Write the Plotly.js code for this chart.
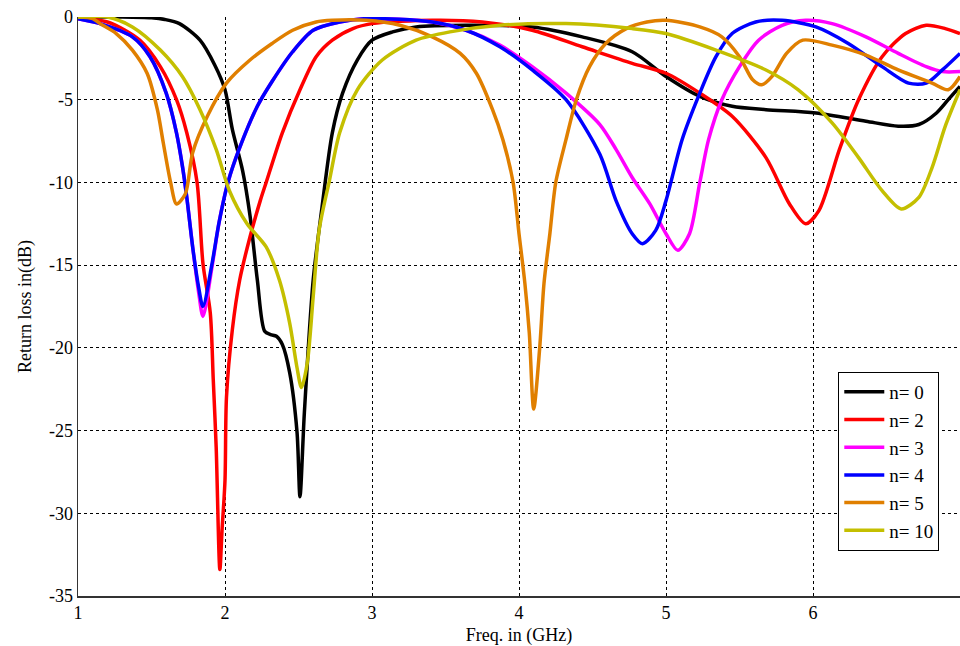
<!DOCTYPE html>
<html>
<head>
<meta charset="utf-8">
<script src="https://cdn.plot.ly/plotly-3.0.1.min.js"></script>
<style>html,body{margin:0;padding:0;background:#fff;}#chart{width:960px;height:646px;}</style>
</head>
<body>
<div id="chart"></div>
<script>
// n = 0 (black)
const x0 = [1, 1.3, 1.5, 1.59, 1.69, 1.83, 1.93, 2.0, 2.05, 2.12, 2.17, 2.22, 2.27, 2.31, 2.35, 2.39, 2.44, 2.49, 2.51, 2.54, 2.60, 2.66, 2.73, 2.80, 2.90, 3.0, 3.14, 3.3, 3.64, 4.09, 4.43, 4.77, 5.0, 5.23, 5.45, 5.68, 6.02, 6.36, 6.58, 6.72, 6.84, 6.92, 7.0];
const y0 = [0, 0, -0.05, -0.15, -0.4, -1.4, -2.9, -4.4, -6.8, -9.3, -12.0, -15.9, -19.0, -19.2, -19.3, -19.8, -21.5, -25.1, -29.0, -23.9, -15.9, -11.5, -7.0, -4.6, -2.6, -1.4, -0.9, -0.6, -0.5, -0.6, -1.2, -2.1, -3.6, -4.8, -5.4, -5.6, -5.8, -6.3, -6.6, -6.5, -5.8, -5.0, -4.2];
// n = 2 (red)
const x2 = [1, 1.2, 1.42, 1.56, 1.67, 1.74, 1.81, 1.85, 1.90, 1.92, 1.94, 1.965, 1.98, 2.0, 2.01, 2.05, 2.10, 2.17, 2.24, 2.28, 2.39, 2.51, 2.62, 2.73, 2.87, 3.0, 3.41, 3.75, 4.09, 4.43, 4.77, 5.0, 5.23, 5.45, 5.68, 5.84, 5.95, 6.04, 6.18, 6.31, 6.47, 6.63, 6.77, 6.90, 7.0];
const y2 = [-0.1, -0.3, -1.4, -3.0, -5.0, -7.0, -10.0, -14.9, -17.9, -21.9, -26.0, -33.4, -31.0, -28.0, -23.0, -18.9, -15.9, -13.3, -11.1, -10.0, -7.0, -4.4, -2.4, -1.4, -0.7, -0.4, -0.2, -0.3, -0.8, -1.8, -2.8, -3.4, -4.6, -6.0, -8.5, -11.3, -12.5, -11.7, -8.0, -5.0, -2.4, -1.0, -0.5, -0.7, -1.0];
// n = 3 (magenta)
const x3 = [1, 1.15, 1.37, 1.49, 1.60, 1.67, 1.71, 1.74, 1.78, 1.82, 1.85, 1.91, 1.96, 2.02, 2.10, 2.22, 2.32, 2.46, 2.60, 2.78, 2.96, 3.41, 3.64, 3.87, 4.09, 4.32, 4.55, 4.66, 4.77, 4.89, 5.0, 5.08, 5.16, 5.23, 5.29, 5.38, 5.50, 5.63, 5.79, 5.95, 6.13, 6.36, 6.58, 6.77, 6.88, 7.0];
const y3 = [-0.1, -0.4, -1.2, -2.4, -4.6, -7.0, -9.0, -10.9, -13.9, -16.6, -18.1, -15.2, -12.4, -10.0, -7.9, -5.4, -3.9, -2.1, -0.8, -0.3, -0.1, -0.3, -0.8, -1.7, -3.0, -4.6, -6.5, -8.0, -9.7, -11.3, -13.1, -14.1, -13.1, -10.0, -7.4, -5.0, -3.0, -1.4, -0.5, -0.2, -0.4, -1.2, -2.2, -3.0, -3.3, -3.3];
// n = 4 (blue)
const x4 = [1, 1.15, 1.37, 1.49, 1.60, 1.67, 1.71, 1.74, 1.78, 1.82, 1.85, 1.91, 1.96, 2.02, 2.10, 2.22, 2.32, 2.46, 2.60, 2.78, 2.96, 3.41, 3.64, 3.87, 4.09, 4.32, 4.55, 4.66, 4.77, 4.84, 4.93, 5.0, 5.11, 5.23, 5.34, 5.45, 5.61, 5.79, 6.02, 6.24, 6.47, 6.65, 6.77, 6.88, 7.0];
const y4 = [-0.1, -0.4, -1.2, -2.4, -4.6, -7.0, -9.0, -10.9, -13.9, -16.3, -17.5, -15.0, -12.4, -10.0, -7.9, -5.4, -3.9, -2.1, -0.8, -0.3, -0.1, -0.3, -0.8, -1.8, -3.2, -5.0, -8.3, -11.1, -13.1, -13.7, -12.9, -11.1, -7.4, -4.6, -2.4, -1.0, -0.3, -0.2, -0.6, -1.6, -3.0, -4.0, -4.0, -3.2, -2.2];
// n = 5 (orange)
const x5 = [1, 1.1, 1.15, 1.26, 1.37, 1.47, 1.54, 1.58, 1.63, 1.67, 1.73, 1.78, 1.88, 2.01, 2.17, 2.32, 2.46, 2.62, 2.73, 2.96, 3.19, 3.41, 3.60, 3.71, 3.82, 3.89, 3.96, 4.00, 4.04, 4.07, 4.10, 4.14, 4.17, 4.21, 4.25, 4.32, 4.39, 4.48, 4.59, 4.73, 4.87, 5.0, 5.23, 5.38, 5.50, 5.59, 5.65, 5.72, 5.82, 5.93, 6.13, 6.36, 6.58, 6.81, 6.92, 7.0];
const y5 = [0, -0.1, -0.4, -1.0, -2.0, -3.4, -5.6, -7.6, -10.0, -11.3, -10.7, -8.2, -6.0, -4.0, -2.6, -1.6, -0.8, -0.3, -0.2, -0.2, -0.5, -1.2, -2.2, -3.4, -5.6, -7.4, -10.0, -13.1, -16.1, -19.1, -23.7, -20.1, -16.1, -13.1, -10.0, -7.4, -5.0, -3.0, -1.6, -0.7, -0.3, -0.2, -0.6, -1.2, -2.4, -3.8, -4.1, -3.6, -2.2, -1.4, -1.7, -2.3, -3.2, -4.0, -4.4, -3.6];
// n = 10 (olive yellow)
const x10 = [1, 1.2, 1.37, 1.56, 1.71, 1.83, 1.94, 2.03, 2.15, 2.28, 2.37, 2.44, 2.49, 2.52, 2.56, 2.60, 2.64, 2.71, 2.78, 2.90, 3.07, 3.30, 3.53, 3.87, 4.32, 4.77, 5.0, 5.34, 5.68, 5.90, 6.13, 6.31, 6.47, 6.60, 6.72, 6.81, 6.90, 7.0];
const y10 = [0, 0, -0.6, -2.0, -3.6, -5.6, -8.0, -10.5, -12.5, -13.9, -15.9, -18.5, -21.2, -22.4, -20.9, -16.9, -12.9, -9.9, -7.0, -4.4, -2.6, -1.4, -0.9, -0.5, -0.4, -0.7, -1.0, -2.0, -3.2, -4.4, -6.4, -8.5, -10.5, -11.6, -10.9, -9.1, -6.6, -4.4];

const names = ['n= 0', 'n= 2', 'n= 3', 'n= 4', 'n= 5', 'n= 10'];
const colors = ['#000000', '#ff0000', '#ff00ff', '#0000ff', '#e07f00', '#c4bf00'];
const xTicks = [1, 2, 3, 4, 5, 6];
const yTicks = [0, -5, -10, -15, -20, -25, -30, -35];

const xs = [x0, x2, x3, x4, x5, x10];
const ys = [y0, y2, y3, y4, y5, y10];

const traces = xs.map((x, i) => ({
  x: x, y: ys[i], type: 'scatter', mode: 'lines', name: names[i],
  line: {color: colors[i], width: 3.5, shape: 'spline', smoothing: 0.8}
}));

const font = {family: '"Liberation Serif", "Times New Roman", serif', size: 18, color: '#000'};

const layout = {
  width: 960, height: 646,
  margin: {l: 78, r: 0, t: 17, b: 50},
  paper_bgcolor: '#fff', plot_bgcolor: '#fff',
  font: font,
  showlegend: true,
  legend: {
    x: 0.862, y: 0.387, xanchor: 'left', yanchor: 'top',
    bgcolor: '#fff', bordercolor: '#000', borderwidth: 1,
    font: {family: font.family, size: 19, color: '#000'},
    tracegroupgap: 0, itemwidth: 40
  },
  xaxis: {
    range: [1, 7], tickvals: xTicks, ticktext: xTicks.map(String),
    showgrid: true, gridcolor: '#000', griddash: 'dot', gridwidth: 1,
    zeroline: false, showline: true, linecolor: '#333', linewidth: 1.5,
    ticks: '', tickfont: font,
    title: {text: 'Freq. in (GHz)', font: font, standoff: 6},
    automargin: false
  },
  yaxis: {
    range: [-35, 0], tickvals: yTicks, ticktext: yTicks.map(String),
    showgrid: true, gridcolor: '#000', griddash: 'dot', gridwidth: 1,
    zeroline: false, showline: true, linecolor: '#333', linewidth: 1.5,
    ticks: '', tickfont: font,
    title: {text: 'Return loss in(dB)', font: font, standoff: 12},
    automargin: false
  }
};

Plotly.newPlot('chart', traces, layout, {displayModeBar: false, staticPlot: true});
</script>
</body>
</html>
